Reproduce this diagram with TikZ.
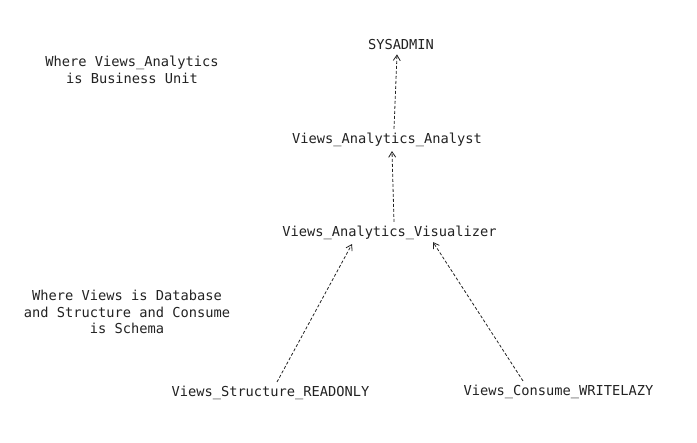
\documentclass[tikz,border=0pt]{standalone}
\usepackage{fontspec}
\setmonofont{DejaVu Sans Mono}
\usepackage{xcolor}
\usetikzlibrary{arrows.meta}
\definecolor{Ink}{HTML}{222222}

\begin{document}
\begin{tikzpicture}[
  x=1pt,y=1pt,
  role/.style={inner sep=4pt,text=Ink,font=\ttfamily\fontsize{13.7}{16.5}\selectfont},
  note/.style={inner sep=0pt,align=center,text=Ink,font=\ttfamily\fontsize{13.7}{16.5}\selectfont},
  grant/.style={-{Straight Barb[length=5.5pt,width=7pt,line width=0.8pt]},draw=Ink,dash pattern=on 3pt off 2pt,line width=0.8pt}
]
\useasboundingbox (0,0) rectangle (697,443);
\node[note] (bu) at (132,373) {Where Views\_Analytics\\is Business Unit};
\node[note] (db) at (127,131) {Where Views is Database\\and Structure and Consume\\is Schema};
\node[role] (sys) at (401,398) {SYSADMIN};
\node[role] (ana) at (387,303) {Views\_Analytics\_Analyst};
\node[role] (vis) at (389.5,210) {Views\_Analytics\_Visualizer};
\node[role] (sro) at (270.5,50) {Views\_Structure\_READONLY};
\node[role] (cwl) at (558.5,51) {Views\_Consume\_WRITELAZY};
\draw[grant] ([xshift=7pt]ana.north) -- ([xshift=-4pt]sys.south);
\draw[grant] ([xshift=4.5pt]vis.north) -- ([xshift=5pt]ana.south);
\draw[grant] ([xshift=6.5pt]sro.north) -- ([xshift=-37.5pt]vis.south);
\draw[grant] ([xshift=-35.5pt]cwl.north) -- ([xshift=43.5pt,yshift=2pt]vis.south);
\end{tikzpicture}
\end{document}
